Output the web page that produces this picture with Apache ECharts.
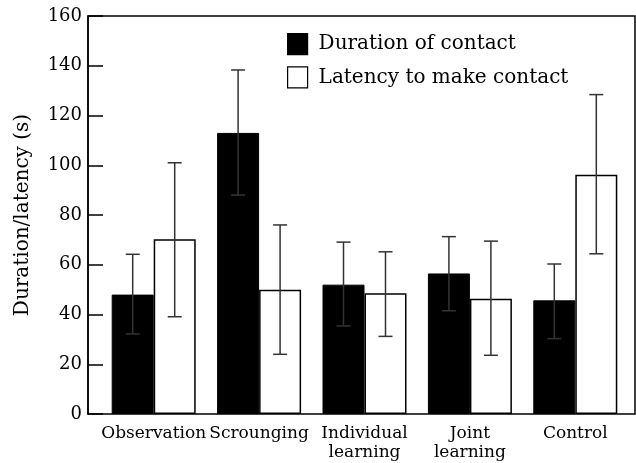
<!DOCTYPE html>
<html>
<head>
<meta charset="utf-8">
<script src="https://cdn.jsdelivr.net/npm/echarts@6/dist/echarts.min.js"></script>
<style>
    html, body { margin: 0; padding: 0; background: #fff; }
    #chart { width: 636px; height: 463px; }
</style>
</head>
<body>
<div id="chart"></div>
<script>
const categories = ["Observation", "Scrounging", "Individual\nlearning", "Joint\nlearning", "Control"];
const seriesNames = ["Duration of contact", "Latency to make contact"];
const durationMean = [48, 113, 52, 56.5, 45.7];
const durationLow = [32.2, 88, 35.4, 41.5, 30.3];
const durationHigh = [64.2, 138.3, 69.1, 71.3, 60.3];
const latencyMean = [70.3, 50, 48.5, 46.3, 96.2];
const latencyLow = [39.1, 24, 31.2, 23.6, 64.4];
const latencyHigh = [101, 76, 65.2, 69.5, 128.4];
const yTicks = { min: 0, max: 160, interval: 20 };

const FONT = "DejaVu Serif";
const BAR_W = 42;

// error bars: one custom series per bar series, shifted by half a bar
const errorSeries = (low, high, shift) => ({
    type: "custom",
    xAxisIndex: 1,
    yAxisIndex: 1,
    z: 5,
    silent: true,
    data: categories.map((c, i) => [i, low[i], high[i]]),
    renderItem: (params, api) => {
        const lo = api.coord([api.value(0), api.value(1)]);
        const hi = api.coord([api.value(0), api.value(2)]);
        const x = lo[0] + shift;
        const cap = 7;
        const style = { stroke: "#333", lineWidth: 1.5 };
        return {
            type: "group",
            children: [
                { type: "line", shape: { x1: x, y1: lo[1], x2: x, y2: hi[1] }, style },
                { type: "line", shape: { x1: x - cap, y1: lo[1], x2: x + cap, y2: lo[1] }, style },
                { type: "line", shape: { x1: x - cap, y1: hi[1], x2: x + cap, y2: hi[1] }, style },
            ],
        };
    },
});

const option = {
    animation: false,
    textStyle: { fontFamily: FONT },
    legend: {
        data: seriesNames.map((n) => ({ name: n, icon: "rect" })),
        orient: "vertical",
        left: 287,
        top: 33,
        padding: 0,
        itemWidth: 20,
        itemHeight: 21,
        itemGap: 11,
        itemStyle: { borderColor: "#000", borderWidth: 1.2 },
        textStyle: { fontFamily: FONT, fontSize: 20, color: "#000", padding: [0, 0, 0, 6] },
    },
    grid: [
        {
            left: 88, right: 1, top: 16, bottom: 49,
            show: true, borderColor: "#000", borderWidth: 1.5,
        },
        {
            left: 101, right: 8, top: 16, bottom: 49,
        },
    ],
    xAxis: [
        {
            type: "value",
            gridIndex: 0,
            axisLine: { show: false },
            axisTick: { show: false },
            axisLabel: { show: false },
            splitLine: { show: false },
        },
        {
            type: "category",
            gridIndex: 1,
            data: categories,
            axisLine: { show: false },
            axisTick: { show: false },
            axisLabel: {
                interval: 0,
                color: "#000",
                fontFamily: FONT,
                fontSize: 17,
                lineHeight: 19,
                margin: 10,
            },
        },
    ],
    yAxis: [
        {
            type: "value",
            gridIndex: 0,
            min: yTicks.min,
            max: yTicks.max,
            interval: yTicks.interval,
            name: "Duration/latency (s)",
            nameLocation: "middle",
            nameGap: 55,
            nameTextStyle: { fontFamily: FONT, fontSize: 20, color: "#000" },
            axisLine: { show: true, lineStyle: { color: "#000", width: 1.5 } },
            axisTick: { show: true, inside: true, length: 15, lineStyle: { color: "#000", width: 1.5 } },
            axisLabel: { color: "#000", fontFamily: FONT, fontSize: 18, margin: 6 },
            splitLine: { show: false },
        },
        {
            type: "value",
            gridIndex: 1,
            min: yTicks.min,
            max: yTicks.max,
            interval: yTicks.interval,
            axisLine: { show: false },
            axisTick: { show: false },
            axisLabel: { show: false },
            splitLine: { show: false },
        },
    ],
    series: [
        {
            name: seriesNames[0],
            type: "bar",
            xAxisIndex: 1,
            yAxisIndex: 1,
            barWidth: BAR_W,
            barGap: "0%",
            itemStyle: { color: "#000", borderColor: "#000", borderWidth: 1 },
            data: durationMean,
        },
        {
            name: seriesNames[1],
            type: "bar",
            xAxisIndex: 1,
            yAxisIndex: 1,
            barWidth: BAR_W,
            barGap: "0%",
            itemStyle: { color: "#fff", borderColor: "#000", borderWidth: 1.5 },
            data: latencyMean,
        },
        errorSeries(durationLow, durationHigh, -BAR_W / 2),
        errorSeries(latencyLow, latencyHigh, BAR_W / 2),
    ],
};

const chart = echarts.init(document.getElementById("chart"));
chart.setOption(option);
</script>
</body>
</html>
